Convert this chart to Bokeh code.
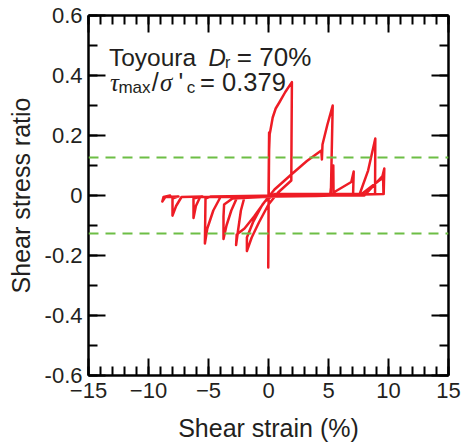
from bokeh.plotting import figure
from bokeh.models import FixedTicker, LinearAxis, Span, CustomJSTickFormatter, Range1d, Label
from bokeh.embed import file_html
from bokeh.resources import INLINE

# ---- data ----
shear_strain = [
    0.00, 0.03, 0.05, 0.02, -0.02, 0.00, 0.05, 0.10, 0.15, 0.35, 0.60, 0.90, 1.40, 1.95,
    1.92, 1.90, 0.80, 0.00, -0.80, -1.40, -1.80,
    -1.80, -1.30, -0.50, 0.50, 1.90, 3.20, 4.40, 4.45, 4.50, 4.90, 5.35,
    5.20, 5.15, 5.40, 5.42, 6.90, 7.10, 7.05,
    3.00, -2.00, -2.30, -2.55, -2.70,
    -2.65, -2.00, -1.20, -0.30, 0.50, 4.00, 7.60, 8.30, 8.90, 8.88,
    4.00, -2.60, -3.10, -3.50, -3.75,
    -3.75, -3.70, -3.00, 2.00, 8.00, 9.50, 9.65, 9.60,
    3.00, -4.00, -4.60, -5.10, -5.30,
    -5.25, -4.80, 1.00, 7.60, 9.55, 9.58,
    2.00, -5.70, -6.05, -6.25,
    -6.25, -5.50, -7.25, -7.70, -8.00,
    -8.00, -7.50, -8.60, -8.85, -8.75, -8.20,
]
shear_stress_ratio = [
    0.000, 0.120, 0.210, 0.050, -0.240, -0.080, 0.150, 0.205, 0.215, 0.260, 0.290, 0.310, 0.345, 0.378,
    0.200, 0.050, 0.010, -0.030, -0.090, -0.140, -0.185,
    -0.140, -0.090, -0.030, 0.020, 0.070, 0.115, 0.150, 0.120, 0.170, 0.235, 0.300,
    0.010, 0.005, 0.100, 0.010, 0.045, 0.080, 0.005,
    0.003, -0.005, -0.050, -0.120, -0.165,
    -0.130, -0.110, -0.070, -0.020, 0.005, 0.005, 0.005, 0.083, 0.190, 0.005,
    -0.002, -0.005, -0.050, -0.100, -0.145,
    -0.070, -0.030, -0.010, 0.000, 0.000, 0.065, 0.090, 0.005,
    -0.002, -0.005, -0.050, -0.110, -0.160,
    -0.010, -0.003, 0.000, 0.000, 0.060, 0.005,
    -0.002, -0.005, -0.035, -0.075,
    -0.010, -0.003, -0.005, -0.035, -0.067,
    -0.010, -0.003, -0.005, -0.020, -0.005, 0.000,
]
csr_levels = [0.127, -0.127]

x_major = [-15, -10, -5, 0, 5, 10, 15]
x_minor = list(range(-15, 16))
y_major = [-0.6, -0.4, -0.2, 0.0, 0.2, 0.4, 0.6]
y_minor = [round(-0.6 + 0.1 * i, 1) for i in range(13)]

TXT = "#231F20"
FONT = "Liberation Sans"

p = figure(width=466, height=445, x_range=Range1d(-15, 15), y_range=Range1d(-0.6, 0.6),
           output_backend="svg", toolbar_location=None,
           min_border_left=88, min_border_right=18, min_border_top=15, min_border_bottom=70,
           background_fill_color="white", border_fill_color="white")
p.grid.visible = False
p.outline_line_color = None

xt = FixedTicker(ticks=x_major, minor_ticks=x_minor)
yt = FixedTicker(ticks=y_major, minor_ticks=y_minor)
yfmt = CustomJSTickFormatter(code="const v = Math.round(tick*10)/10; return v === 0 ? '0' : String(v);")
blank = CustomJSTickFormatter(code="return '';")

def style(ax, labels=True):
    ax.axis_line_color = "black"
    ax.axis_line_width = 2.5
    ax.major_tick_in = 17
    ax.major_tick_out = 0
    ax.minor_tick_in = 9
    ax.minor_tick_out = 0
    ax.major_tick_line_color = "black"
    ax.minor_tick_line_color = "black"
    ax.major_tick_line_width = 2
    ax.minor_tick_line_width = 2
    ax.major_label_text_font = FONT
    ax.major_label_text_color = TXT
    ax.major_label_text_font_size = "22px"
    ax.axis_label_text_font = FONT
    ax.axis_label_text_color = TXT
    ax.axis_label_text_font_style = "normal"
    ax.axis_label_text_font_size = "25px"
    if not labels:
        ax.formatter = blank
        ax.major_label_standoff = 0

p.xaxis.ticker = xt
p.yaxis.ticker = yt
p.yaxis.formatter = yfmt
p.xaxis.axis_label = "Shear strain (%)"
p.yaxis.axis_label = "Shear stress ratio"
style(p.xaxis[0])
style(p.yaxis[0])
p.xaxis.major_label_standoff = 7
p.yaxis.major_label_standoff = 6
p.xaxis.axis_label_standoff = 13
p.yaxis.axis_label_standoff = 7

top = LinearAxis(ticker=FixedTicker(ticks=x_major, minor_ticks=x_minor))
right = LinearAxis(ticker=FixedTicker(ticks=y_major, minor_ticks=y_minor))
style(top, labels=False)
style(right, labels=False)
p.add_layout(top, "above")
p.add_layout(right, "right")

for lvl in csr_levels:
    p.add_layout(Span(location=lvl, dimension="width", line_color="#6DBE45",
                      line_width=2, line_dash="10 7"))

p.line(shear_strain, shear_stress_ratio, line_color="#EE1C25", line_width=2.5,
       line_join="round", line_cap="round")

# annotation text (two lines with subscripts)
def t(x, y, s, size, font=FONT, style="normal"):
    p.add_layout(Label(x=x, y=y, x_units="data", y_units="data", text=s,
                       text_font=font, text_font_size=size, text_font_style=style,
                       text_color=TXT, text_align="left", text_baseline="alphabetic"))

t(-13.30, 0.461, "Toyoura", "24.5px")
t(-5.01, 0.461, "D", "24px", style="italic")
t(-3.62, 0.444, "r", "16px")
t(-2.64, 0.461, "= 70%", "26px")

t(-13.21, 0.3775, "τ", "25px", font="Liberation Serif", style="italic")
t(-12.51, 0.3588, "max", "17px")
t(-9.73, 0.3775, "/", "25px")
t(-9.04, 0.3775, "σ", "25px", font="Liberation Serif", style="italic")
t(-7.50, 0.3775, "'", "25px")
t(-6.81, 0.3588, "c", "17px")
t(-5.70, 0.3775, "= 0.379", "25.5px")

open("out.html", "w").write(file_html(p, INLINE))
